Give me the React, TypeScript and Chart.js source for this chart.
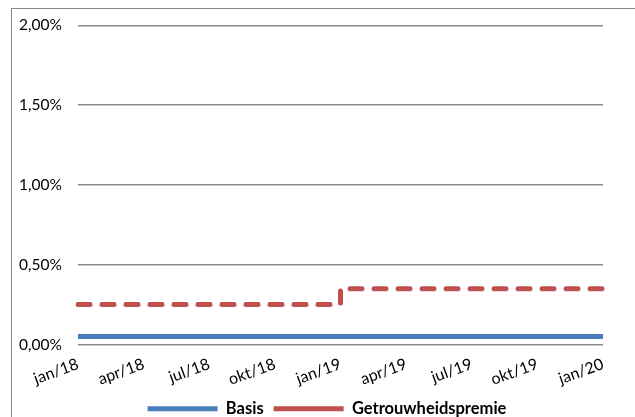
import React, { useEffect, useRef } from "react";
import { Chart, registerables } from "chart.js";

Chart.register(...registerables);

const months: string[] = [
  "jan/18", "feb/18", "mrt/18", "apr/18", "mei/18", "jun/18", "jul/18", "aug/18", "sep/18", "okt/18", "nov/18", "dec/18",
  "jan/19", "feb/19", "mrt/19", "apr/19", "mei/19", "jun/19", "jul/19", "aug/19", "sep/19", "okt/19", "nov/19", "dec/19",
  "jan/20",
];
const shownLabels: string[] = ["jan/18", "apr/18", "jul/18", "okt/18", "jan/19", "apr/19", "jul/19", "okt/19", "jan/20"];
const basis: number[] = [
  0.05, 0.05, 0.05, 0.05, 0.05, 0.05, 0.05, 0.05, 0.05, 0.05, 0.05, 0.05,
  0.05, 0.05, 0.05, 0.05, 0.05, 0.05, 0.05, 0.05, 0.05, 0.05, 0.05, 0.05,
  0.05,
];
const premie: number[] = [
  0.25, 0.25, 0.25, 0.25, 0.25, 0.25, 0.25, 0.25, 0.25, 0.25, 0.25, 0.25,
  0.35, 0.35, 0.35, 0.35, 0.35, 0.35, 0.35, 0.35, 0.35, 0.35, 0.35, 0.35,
  0.35,
];

const FONT = "Lato, 'Open Sans', sans-serif";

const legendShift = {
  id: "legendShift",
  afterLayout(chart: any) {
    if (chart.legend) chart.legend.left += 37;
  },
};

export default function App() {
  const ref = useRef<HTMLCanvasElement | null>(null);
  useEffect(() => {
    if (!ref.current) return;
    const chart = new Chart(ref.current, {
      type: "line",
      data: {
        labels: months,
        datasets: [
          {
            label: "Basis",
            data: basis,
            borderColor: "#4a7ebb",
            backgroundColor: "#4a7ebb",
            borderWidth: 5,
            pointRadius: 0,
            pointStyle: "line",
            borderCapStyle: "butt",
          },
          {
            label: "Getrouwheidspremie",
            data: premie,
            borderColor: "#c0504d",
            backgroundColor: "#c0504d",
            borderWidth: 5,
            borderDash: [12, 12],
            borderCapStyle: "round",
            pointRadius: 0,
            pointStyle: "line",
            stepped: true,
          },
        ],
      },
      options: {
        animation: false,
        responsive: false,
        devicePixelRatio: 1,
        layout: { padding: { left: 14, right: 32, top: 25, bottom: 3 } },
        scales: {
          x: {
            grid: { display: false, drawTicks: false },
            border: { display: false },
            afterFit: (s: any) => { s.height = 46; },
            ticks: {
              autoSkip: false,
              minRotation: 20,
              maxRotation: 20,
              padding: 10,
              color: "#000",
              font: { family: FONT, size: 16 },
              callback: function (this: any, v: any, i: number) {
                const l = months[i];
                return shownLabels.includes(l) ? l : "";
              },
            },
          },
          y: {
            min: 0,
            max: 2,
            afterFit: (s: any) => { s.width = 64; },
            grid: { color: "#8a8a8a", lineWidth: 1.5, drawTicks: false },
            border: { display: false },
            ticks: {
              stepSize: 0.5,
              padding: 16,
              color: "#000",
              font: { family: FONT, size: 15.5 },
              callback: (v: any) => Number(v).toFixed(2).replace(".", ",") + "%",
            },
          },
        },
        plugins: {
          tooltip: { enabled: false },
          legend: {
            position: "bottom",
            labels: {
              usePointStyle: true,
              pointStyleWidth: 70,
              boxHeight: 10,
              padding: 10,
              color: "#000",
              font: { family: FONT, size: 16.5, weight: "bold" },
            },
          },
        },
      },
      plugins: [legendShift],
    });
    return () => chart.destroy();
  }, []);

  return (
    <div style={{ position: "fixed", left: 0, top: 0, width: 635, height: 417, overflow: "hidden", background: "#fff" }}>
      <div style={{ position: "absolute", left: 11, top: 8, width: 700, height: 500, border: "1px solid #8a8a8a", boxSizing: "border-box" }} />
      <canvas ref={ref} width={635} height={430} style={{ position: "absolute", left: 0, top: 0 }} />
    </div>
  );
}
